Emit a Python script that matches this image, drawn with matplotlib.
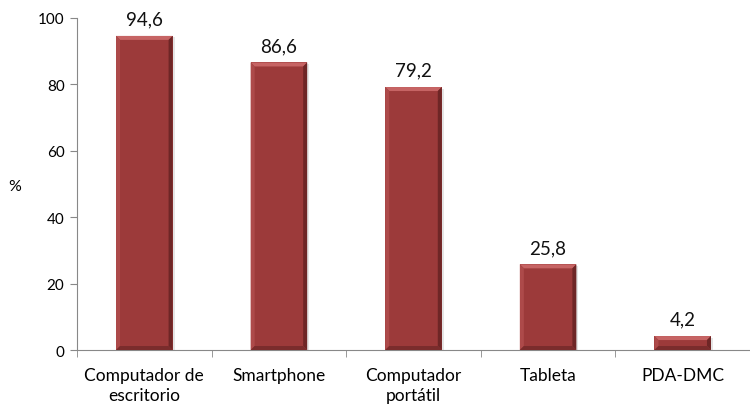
import numpy as np
import matplotlib
matplotlib.use('Agg')
import matplotlib.pyplot as plt
from matplotlib.patches import Polygon, Rectangle

categorias = ['Computador de\nescritorio', 'Smartphone', 'Computador\nportátil', 'Tableta', 'PDA-DMC']
valores = [94.6, 86.6, 79.2, 25.8, 4.2]
etiquetas = ['94,6', '86,6', '79,2', '25,8', '4,2']

plt.rcParams['font.family'] = ['Lato', 'DejaVu Sans']

fig = plt.figure(figsize=(7.5, 4.1), dpi=100)
ax = fig.add_axes([0.1027, 0.1439, 0.8973, 0.8098])

x = np.arange(len(valores))
ancho = 0.42
bars = ax.bar(x, valores, width=ancho, color='#9C3A3A', zorder=3)

ax.set_xlim(-0.5, len(valores) - 0.5)
ax.set_ylim(0, 100)

# bevel, sized in pixels -> data units
px_x = 1.0 / 134.6
px_y = 100.0 / 332.0
bx = 4 * px_x
by = 4 * px_y
for b in bars:
    x0, y0 = b.get_x(), b.get_y()
    w, h = b.get_width(), b.get_height()
    x1, y1 = x0 + w, y0 + h
    dy = min(by, h / 2.2)
    # shadow
    ax.add_patch(Rectangle((x0 + 2 * px_x, y0), w, h - 1.5 * px_y, color='#cccccc', alpha=0.5, zorder=2, lw=0))
    ax.add_patch(Polygon([(x0, y1), (x1, y1), (x1 - bx, y1 - dy), (x0 + bx, y1 - dy)], closed=True, color='#C66464', lw=0, zorder=4))
    ax.add_patch(Polygon([(x0, y0), (x0, y1), (x0 + bx, y1 - dy), (x0 + bx, y0 + dy)], closed=True, color='#AD4A4A', lw=0, zorder=4))
    ax.add_patch(Polygon([(x1, y0), (x1, y1), (x1 - bx, y1 - dy), (x1 - bx, y0 + dy)], closed=True, color='#6E2626', lw=0, zorder=4))
    ax.add_patch(Polygon([(x0, y0), (x1, y0), (x1 - bx, y0 + dy), (x0 + bx, y0 + dy)], closed=True, color='#7A2C2C', lw=0, zorder=4))

for xi, v, t in zip(x, valores, etiquetas):
    ax.text(xi, v + 2.5, t, ha='center', va='bottom', fontsize=13.5, color='#111111')

ax.set_xticks(x)
ax.set_xticklabels(categorias, fontsize=12.5, linespacing=1.35)
ax.set_xticks(np.arange(len(valores) + 1) - 0.5, minor=True)
ax.tick_params(axis='x', which='major', length=0, pad=12)
ax.tick_params(axis='x', which='minor', length=5, color='#888888')
ax.set_yticks(np.arange(0, 101, 20))
ax.tick_params(axis='y', labelsize=11, length=5, color='#888888', pad=4)

for s in ['top', 'right']:
    ax.spines[s].set_visible(False)
for s in ['left', 'bottom']:
    ax.spines[s].set_color('#888888')

fig.text(15 / 750, 1 - 187 / 410, '%', ha='center', va='center', fontsize=11.5)

fig.savefig('out.png', dpi=100)
